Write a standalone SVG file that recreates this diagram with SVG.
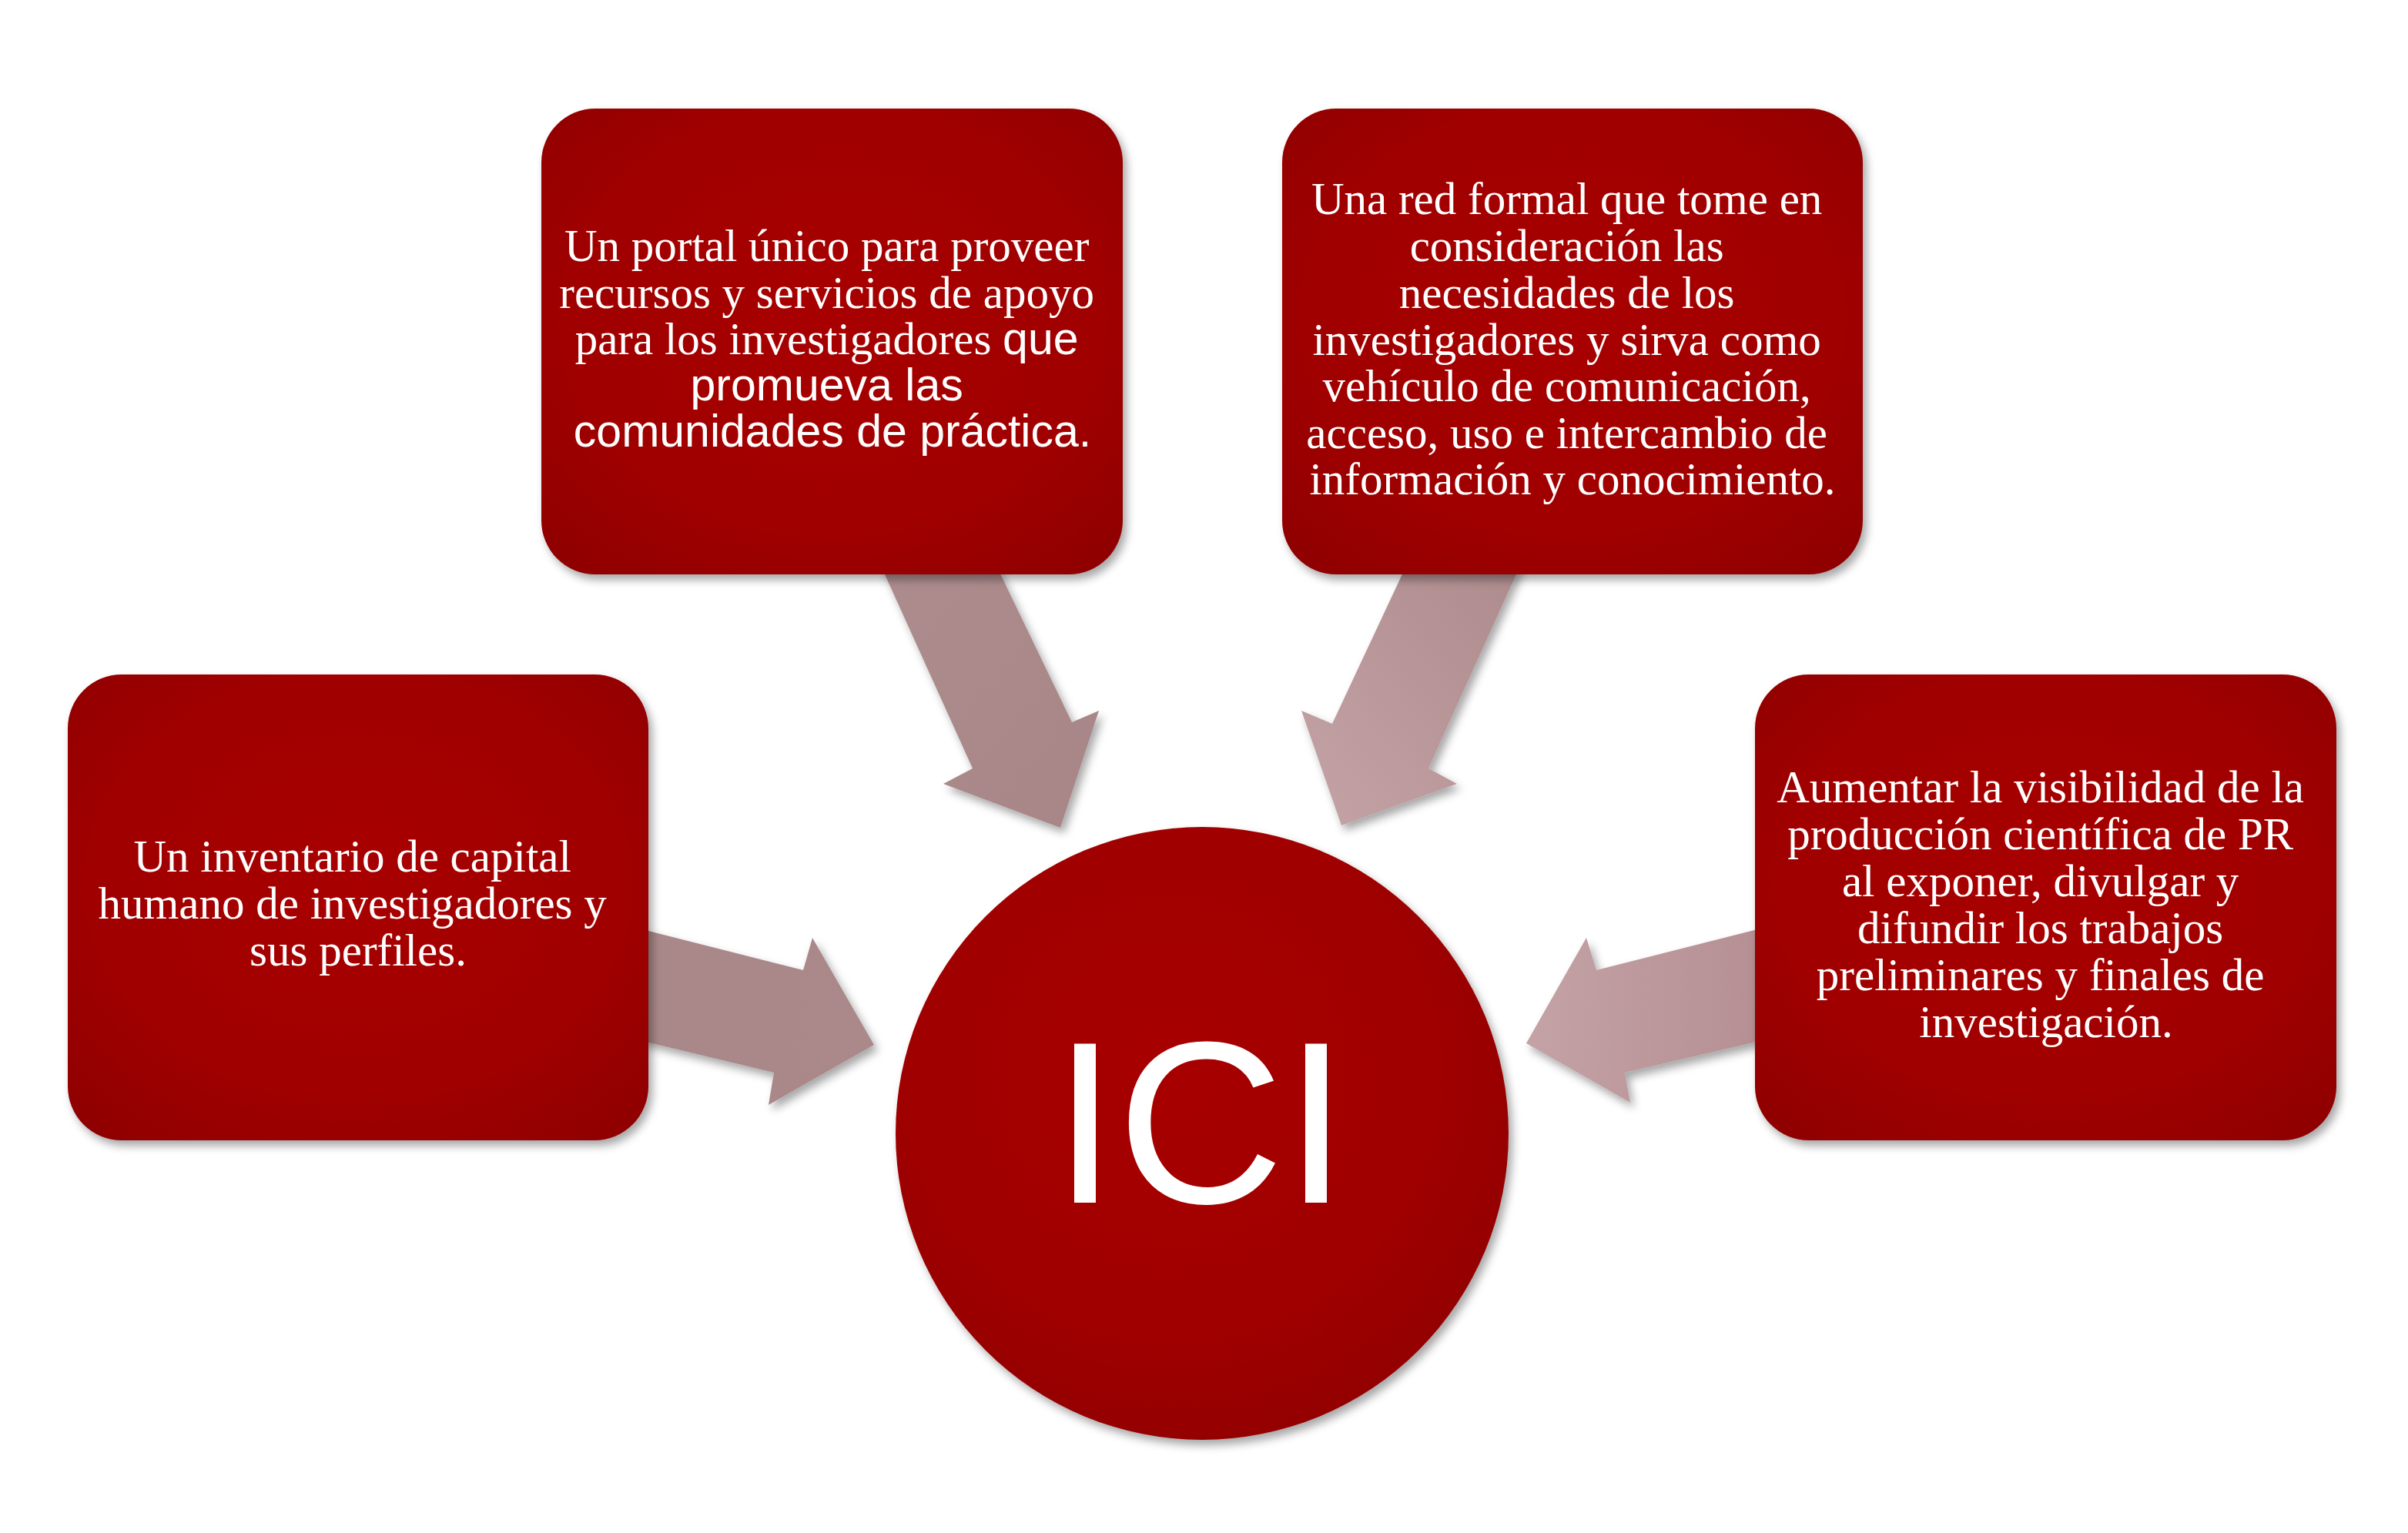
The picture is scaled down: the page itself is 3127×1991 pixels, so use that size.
<svg xmlns="http://www.w3.org/2000/svg" width="3127" height="1991" viewBox="0 0 3127 1991">
<defs>
<style>
.box{fill:url(#boxGrad);filter:url(#shadow)}
.arrow{filter:url(#shadow)}
.t{font-family:"Liberation Serif","Times New Roman",serif;font-size:59px;fill:#ffffff;text-anchor:middle}
.s{font-family:"Liberation Sans",Arial,sans-serif}
.ici{font-family:"Liberation Sans",Arial,sans-serif;font-size:300px;fill:#ffffff;text-anchor:middle}
</style>
<radialGradient id="boxGrad" cx="0.5" cy="0.45" r="0.75">
<stop offset="0" stop-color="#a80000"/>
<stop offset="0.6" stop-color="#a00000"/>
<stop offset="1" stop-color="#8c0000"/>
</radialGradient>
<radialGradient id="circGrad" cx="0.45" cy="0.4" r="0.7">
<stop offset="0" stop-color="#a70000"/>
<stop offset="0.6" stop-color="#a00000"/>
<stop offset="1" stop-color="#8e0000"/>
</radialGradient>
<linearGradient id="arrA" x1="0" y1="0" x2="1" y2="1">
<stop offset="0" stop-color="#ad8c8d"/>
<stop offset="1" stop-color="#a88687"/>
</linearGradient>
<linearGradient id="arrB" x1="1" y1="0" x2="0" y2="1">
<stop offset="0" stop-color="#ae8b8d"/>
<stop offset="1" stop-color="#c4a3a6"/>
</linearGradient>
<linearGradient id="arrC" x1="0" y1="0" x2="1" y2="0">
<stop offset="0" stop-color="#a98889"/>
<stop offset="1" stop-color="#ab8889"/>
</linearGradient>
<linearGradient id="arrD" x1="1" y1="0" x2="0" y2="0">
<stop offset="0" stop-color="#b58f93"/>
<stop offset="1" stop-color="#c4a2a5"/>
</linearGradient>
<filter id="shadow" x="-10%" y="-10%" width="125%" height="125%">
<feDropShadow dx="5" dy="7" stdDeviation="6" flood-color="#000000" flood-opacity="0.35"/>
</filter>
</defs>
<rect x="0" y="0" width="3127" height="1991" fill="#ffffff"/>

<g id="connectors">
<path class="arrow" fill="url(#arrA)" d="M1144,735 L1263,998 L1225,1018 L1377,1075 L1427,923 L1392,938 L1294,735 Z"/>
<path class="arrow" fill="url(#arrB)" d="M1826,735 L1730,940 L1690,923 L1742,1072 L1892,1018 L1855,998 L1974,735 Z"/>
<path class="arrow" fill="url(#arrC)" d="M830,1206 L1043,1260 L1055,1218 L1135,1357 L998,1435 L1005,1393 L830,1351 Z"/>
<path class="arrow" fill="url(#arrD)" d="M2290,1205 L2073,1260 L2060,1218 L1982,1355 L2117,1432 L2110,1393 L2290,1351 Z"/>
</g>

<g id="node-portal">
<rect class="box" x="703" y="141" width="755" height="605" rx="70" ry="70"/>
<text class="t">
<tspan x="1081" y="339">Un portal único para proveer</tspan>
<tspan x="1081" y="400">recursos y servicios de apoyo</tspan>
<tspan x="1081" y="460">para los investigadores <tspan class="s">que</tspan></tspan>
<tspan x="1081" y="520" class="s">promueva las</tspan>
<tspan x="1081" y="580" class="s">comunidades de práctica.</tspan>
</text>
</g>

<g id="node-red">
<rect class="box" x="1665" y="141" width="754" height="605" rx="70" ry="70"/>
<text class="t">
<tspan x="2042" y="278">Una red formal que tome en</tspan>
<tspan x="2042" y="339">consideración las</tspan>
<tspan x="2042" y="400">necesidades de los</tspan>
<tspan x="2042" y="461">investigadores y sirva como</tspan>
<tspan x="2042" y="521">vehículo de comunicación,</tspan>
<tspan x="2042" y="582">acceso, uso e intercambio de</tspan>
<tspan x="2042" y="642">información y conocimiento.</tspan>
</text>
</g>

<g id="node-inventario">
<rect class="box" x="88" y="876" width="754" height="605" rx="70" ry="70"/>
<text class="t">
<tspan x="465" y="1132">Un inventario de capital</tspan>
<tspan x="465" y="1193">humano de investigadores y</tspan>
<tspan x="465" y="1254">sus perfiles.</tspan>
</text>
</g>

<g id="node-visibilidad">
<rect class="box" x="2279" y="876" width="755" height="605" rx="70" ry="70"/>
<text class="t">
<tspan x="2657" y="1042">Aumentar la visibilidad de la</tspan>
<tspan x="2657" y="1103">producción científica de PR</tspan>
<tspan x="2657" y="1164">al exponer, divulgar y</tspan>
<tspan x="2657" y="1225">difundir los trabajos</tspan>
<tspan x="2657" y="1286">preliminares y finales de</tspan>
<tspan x="2657" y="1347">investigación.</tspan>
</text>
</g>

<g id="node-ici">
<circle cx="1561" cy="1472" r="398" fill="url(#circGrad)" filter="url(#shadow)"/>
<text class="ici" x="1559" y="1562">ICI</text>
</g>
</svg>
